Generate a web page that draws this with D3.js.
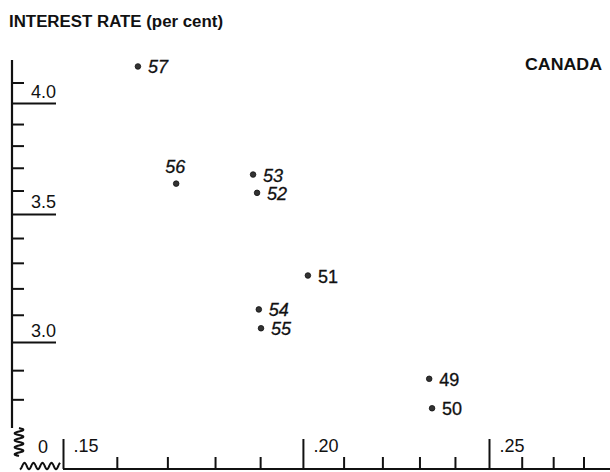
<!DOCTYPE html>
<html>
<head>
<meta charset="utf-8">
<script src="https://cdn.jsdelivr.net/npm/d3@7"></script>
<style>
  html, body { margin: 0; padding: 0; background: #fff; }
  svg { display: block; }
  .lbl { font-family: "Liberation Sans", Arial, sans-serif; font-weight: bold; fill: #111; }
</style>
</head>
<body>
<svg id="chart" width="610" height="472"></svg>
<script>
// Canada: interest rate against the ratio on the horizontal axis, by year (ratio/log scales)
const years        = ["49", "50", "51", "52", "53", "54", "55", "56", "57"];
const ratioValues  = [0.2327, 0.2335, 0.2012, 0.1893, 0.1884, 0.1897, 0.1902, 0.1718, 0.1641];
const interestRate = [2.87, 2.77, 3.25, 3.59, 3.67, 3.12, 3.05, 3.63, 4.18];

const xMajorTicks = [0.15, 0.20, 0.25];
const xMinorTicks = [0.16, 0.17, 0.18, 0.19, 0.21, 0.22, 0.23, 0.24, 0.26, 0.27, 0.28];
const yMajorTicks = [3.0, 3.5, 4.0];
const yMinorTicks = [2.8, 2.9, 3.1, 3.2, 3.3, 3.4, 3.6, 3.7, 3.8, 3.9, 4.1];

const title = "INTEREST RATE (per cent)";
const countryLabel = "CANADA";

const svg = d3.select("#chart");
const ink = "#111";

// both axes are logarithmic (ratio scale)
const x = d3.scaleLog().domain([0.15, 0.25]).range([63, 489]);
const y = d3.scaleLog().domain([3.0, 4.0]).range([342, 103]);

const axisX = 12;      // vertical axis position
const baseY = 469;     // horizontal axis position

// title and country label
svg.append("text").attr("class", "lbl")
  .attr("x", 9).attr("y", 27)
  .attr("textLength", 214).attr("lengthAdjust", "spacingAndGlyphs")
  .style("font-size", "16px")
  .text(title);
svg.append("text").attr("class", "lbl")
  .attr("x", 525).attr("y", 70)
  .attr("textLength", 77).attr("lengthAdjust", "spacingAndGlyphs")
  .style("font-size", "17px")
  .text(countryLabel);

// ---- vertical axis ----
svg.append("line")
  .attr("x1", axisX).attr("x2", axisX)
  .attr("y1", 60).attr("y2", 428)
  .attr("stroke", ink).attr("stroke-width", 2.2);

const gyMinor = svg.append("g").attr("transform", `translate(${axisX},0)`)
  .call(d3.axisLeft(y).tickValues(yMinorTicks).tickSize(-12).tickSizeOuter(0).tickFormat(""));
const gyMajor = svg.append("g").attr("transform", `translate(${axisX},0)`)
  .call(d3.axisLeft(y).tickValues(yMajorTicks).tickSize(-44).tickSizeOuter(0)
        .tickFormat(d3.format(".1f")));

[gyMinor, gyMajor].forEach(g => {
  g.select(".domain").remove();
  g.selectAll(".tick line").attr("stroke", ink).attr("stroke-width", 2);
});
gyMajor.selectAll(".tick text")
  .attr("class", "lbl")
  .attr("x", 19).attr("dy", null).attr("y", -6)
  .attr("text-anchor", "start")
  .style("font-size", "18px").style("font-weight", "normal");

// ---- horizontal axis ----
svg.append("line")
  .attr("x1", x(0.15)).attr("x2", 610)
  .attr("y1", baseY).attr("y2", baseY)
  .attr("stroke", ink).attr("stroke-width", 2.2);

const gxMinor = svg.append("g").attr("transform", `translate(0,${baseY})`)
  .call(d3.axisBottom(x).tickValues(xMinorTicks).tickSize(-12).tickSizeOuter(0).tickFormat(""));
const gxMajor = svg.append("g").attr("transform", `translate(0,${baseY})`)
  .call(d3.axisBottom(x).tickValues(xMajorTicks).tickSize(-30).tickSizeOuter(0)
        .tickFormat(d => d3.format(".2f")(d).replace(/^0/, "")));

[gxMinor, gxMajor].forEach(g => {
  g.select(".domain").remove();
  g.selectAll(".tick line").attr("stroke", ink).attr("stroke-width", 2);
});
gxMajor.selectAll(".tick text")
  .attr("class", "lbl")
  .attr("x", 10).attr("dy", null).attr("y", -17)
  .attr("text-anchor", "start")
  .style("font-size", "18px").style("font-weight", "normal");

// axis break marks: wavy continuation of both axes towards the origin
const wave = d3.line().curve(d3.curveBasis);
const vWave = d3.range(0, 29).map(i => [19 + 5 * Math.sin(i * Math.PI / 3.5), 428 + i]);
const hWave = d3.range(0, 41).map(i => [20 + i, 466 + 3.5 * Math.cos(i * Math.PI / 4.5)]);
svg.append("path").attr("d", wave(vWave))
  .attr("fill", "none").attr("stroke", ink).attr("stroke-width", 2);
svg.append("path").attr("d", wave(hWave))
  .attr("fill", "none").attr("stroke", ink).attr("stroke-width", 2);
svg.append("text").attr("class", "lbl")
  .attr("x", 38).attr("y", 453)
  .style("font-size", "18px").style("font-weight", "normal")
  .text("0");

// ---- points ----
const points = years.map((yr, i) => ({ yr, rx: ratioValues[i], ry: interestRate[i] }));

// label placement relative to each dot
const labelOffset = { "56": [-11, -11] };
const uprightLabels = new Set(["49", "50", "51"]);

const gp = svg.append("g");
gp.selectAll("circle").data(points).join("circle")
  .attr("cx", d => x(d.rx)).attr("cy", d => y(d.ry))
  .attr("r", 2.8)
  .attr("fill", "#333").attr("stroke", ink).attr("stroke-width", 0.8);

gp.selectAll("text").data(points).join("text")
  .attr("class", "lbl")
  .attr("x", d => x(d.rx) + (labelOffset[d.yr] ? labelOffset[d.yr][0] : 10))
  .attr("y", d => y(d.ry) + (labelOffset[d.yr] ? labelOffset[d.yr][1] : 7))
  .style("font-size", "18px")
  .style("font-weight", "normal")
  .style("stroke", ink).style("stroke-width", 0.3)
  .style("font-style", d => uprightLabels.has(d.yr) ? "normal" : "italic")
  .text(d => d.yr);
</script>
</body>
</html>
